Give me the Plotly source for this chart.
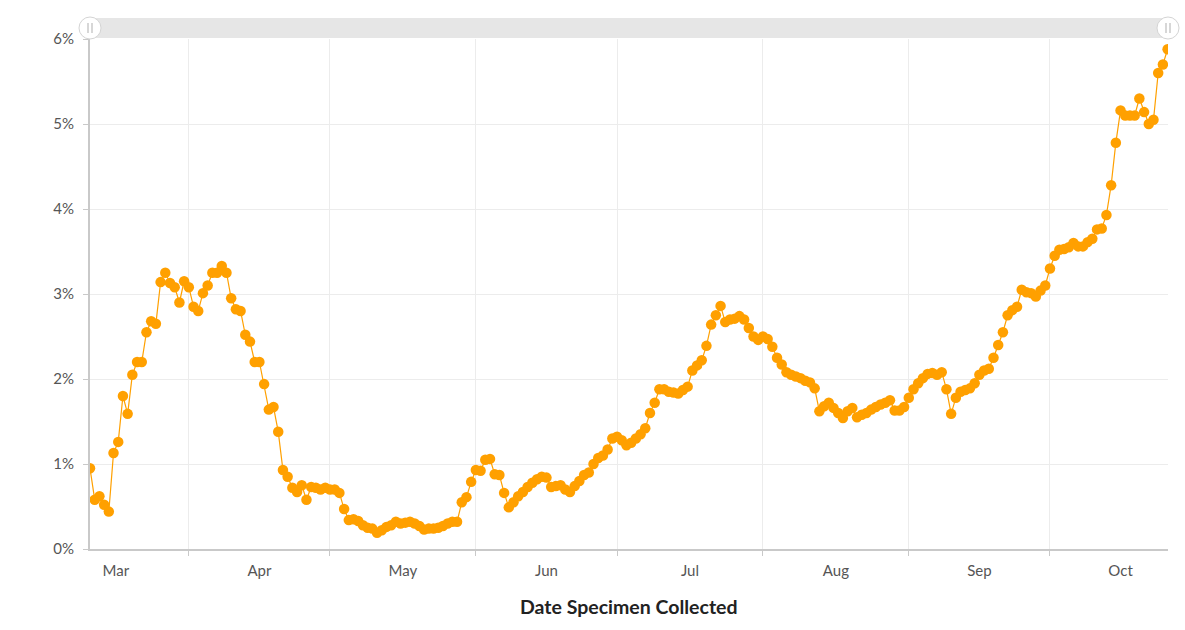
import pandas as pd
import plotly.graph_objects as go

# Daily percent positive, by date specimen collected
start_date = "2020-03-11"
pct_positive = [
    0.95, 0.58, 0.62, 0.52, 0.44, 1.13, 1.26, 1.80, 1.59, 2.05,
    2.20, 2.20, 2.55, 2.68, 2.65, 3.14, 3.25, 3.13, 3.08, 2.90,
    3.15, 3.08, 2.85, 2.80, 3.01, 3.10, 3.25, 3.25, 3.33, 3.25,
    2.95, 2.82, 2.80, 2.52, 2.44, 2.20, 2.20, 1.94, 1.64, 1.67,
    1.38, 0.93, 0.85, 0.72, 0.67, 0.75, 0.58, 0.73, 0.72, 0.70,
    0.72, 0.70, 0.70, 0.66, 0.47, 0.34, 0.35, 0.33, 0.28, 0.25,
    0.24, 0.19, 0.22, 0.26, 0.28, 0.32, 0.30, 0.31, 0.32, 0.30,
    0.27, 0.23, 0.24, 0.24, 0.25, 0.27, 0.30, 0.32, 0.32, 0.55,
    0.61, 0.79, 0.93, 0.92, 1.05, 1.06, 0.88, 0.87, 0.66, 0.49,
    0.55, 0.62, 0.67, 0.73, 0.78, 0.82, 0.85, 0.84, 0.73, 0.74,
    0.75, 0.70, 0.67, 0.74, 0.80, 0.87, 0.90, 1.00, 1.07, 1.10,
    1.17, 1.30, 1.32, 1.28, 1.22, 1.25, 1.30, 1.35, 1.42, 1.60,
    1.72, 1.88, 1.88, 1.85, 1.84, 1.83, 1.87, 1.91, 2.10, 2.16,
    2.22, 2.39, 2.64, 2.75, 2.86, 2.67, 2.70, 2.71, 2.74, 2.70,
    2.60, 2.50, 2.46, 2.50, 2.47, 2.38, 2.25, 2.17, 2.08, 2.05,
    2.03, 2.01, 1.98, 1.96, 1.89, 1.62, 1.68, 1.72, 1.66, 1.60,
    1.54, 1.62, 1.66, 1.55, 1.58, 1.60, 1.64, 1.67, 1.70, 1.72,
    1.75, 1.63, 1.63, 1.67, 1.78, 1.88, 1.95, 2.01, 2.06, 2.07,
    2.05, 2.08, 1.88, 1.59, 1.78, 1.85, 1.87, 1.89, 1.95, 2.05,
    2.10, 2.12, 2.25, 2.40, 2.55, 2.75, 2.81, 2.85, 3.05, 3.02,
    3.01, 2.97, 3.04, 3.10, 3.30, 3.45, 3.52, 3.53, 3.55, 3.60,
    3.56, 3.56, 3.61, 3.65, 3.76, 3.77, 3.93, 4.28, 4.78, 5.16,
    5.10, 5.10, 5.10, 5.30, 5.14, 5.00, 5.05, 5.60, 5.70, 5.88,
]
dates = pd.date_range(start_date, periods=len(pct_positive), freq="D")

axis_title = "Date Specimen Collected"
y_ticks = [0, 1, 2, 3, 4, 5, 6]
y_tick_labels = ["0%", "1%", "2%", "3%", "4%", "5%", "6%"]

ORANGE = "#ffa000"
GRID = "#ececec"
AXIS = "#c9c9c9"
FONT = "Lato, 'Open Sans', sans-serif"
TICK_FONT = dict(family=FONT, size=15, color="#555555")

fig = go.Figure()
fig.add_trace(go.Scatter(
    x=dates,
    y=pct_positive,
    mode="lines+markers",
    line=dict(color=ORANGE, width=1.2),
    marker=dict(color=ORANGE, size=10.5),
    hovertemplate="%{x|%b %d}: %{y:.2f}%<extra></extra>",
))

# scrollbar strip above the plot with a grip at each end
shapes = [
    dict(type="rect", xref="paper", x0=0, x1=1,
         yref="paper", ysizemode="pixel", yanchor=1, y0=1, y1=21,
         fillcolor="#e6e6e6", line=dict(width=0), layer="above"),
]
for xa in (0, 1):
    shapes.append(dict(
        type="circle", xref="paper", xsizemode="pixel", xanchor=xa,
        x0=-11, x1=11, yref="paper", ysizemode="pixel", yanchor=1,
        y0=0, y1=22, fillcolor="white",
        line=dict(color="#d4d4d4", width=1), layer="above"))
    for dx in (-2, 2):
        shapes.append(dict(
            type="line", xref="paper", xsizemode="pixel", xanchor=xa,
            x0=dx, x1=dx, yref="paper", ysizemode="pixel", yanchor=1,
            y0=6, y1=16, line=dict(color="#bdbdbd", width=1.2),
            layer="above"))

fig.update_layout(
    width=1185,
    height=630,
    margin=dict(l=90, r=17, t=39, b=81),
    paper_bgcolor="white",
    plot_bgcolor="white",
    showlegend=False,
    font=dict(family=FONT, size=15, color="#555555"),
    shapes=shapes,
    annotations=[dict(
        text=f"<b>{axis_title}</b>", xref="paper", yref="paper",
        x=0.5, y=-0.112, xanchor="center", yanchor="middle",
        showarrow=False, font=dict(family=FONT, size=19.5, color="#222222"),
    )],
)

fig.update_xaxes(
    range=[pd.Timestamp("2020-03-11"), pd.Timestamp("2020-10-26 02:00")],
    tick0="2020-03-01",
    dtick="M1",
    tickformat="%b",
    ticklabelmode="period",
    ticklabelstandoff=2,
    showgrid=True,
    gridcolor=GRID,
    gridwidth=1,
    showline=True,
    linecolor=AXIS,
    linewidth=2,
    ticks="outside",
    ticklen=5,
    tickcolor=AXIS,
    tickfont=TICK_FONT,
    zeroline=False,
)
fig.update_yaxes(
    range=[0, 6],
    tickmode="array",
    tickvals=y_ticks,
    ticktext=y_tick_labels,
    ticklabelstandoff=6,
    showgrid=True,
    gridcolor=GRID,
    gridwidth=1,
    showline=True,
    linecolor=AXIS,
    linewidth=2,
    ticks="outside",
    ticklen=5,
    tickcolor=AXIS,
    tickfont=TICK_FONT,
    zeroline=False,
)

fig.write_html("out.html")
